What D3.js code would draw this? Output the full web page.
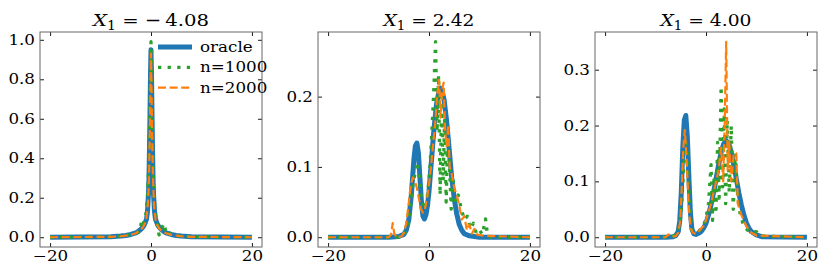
<!DOCTYPE html>
<html>
<head>
<meta charset="utf-8">
<script src="https://cdn.jsdelivr.net/npm/d3@7"></script>
<style>
  body { margin: 0; background: #fff; }
  text { font-family: "DejaVu Serif", serif; fill: #000; }
</style>
</head>
<body>
<div id="chart"></div>
<script>
'use strict'

// panel titles (value of X1) and y ticks
const titles = ['\u2212\u20094.08', '2.42', '4.00']
const yTicks = [[0, 0.2, 0.4, 0.6, 0.8, 1.0], [0, 0.1, 0.2], [0, 0.1, 0.2, 0.3]]
const xTicks = [-20, 0, 20]
const seriesNames = ['oracle', 'n=1000', 'n=2000']

// panel 1: X1 = -4.08
const oracleX1 = [-20, -8, -6, -5, -4, -3, -2.5, -2, -1.5, -1.2, -0.9, -0.7, -0.5, -0.4, -0.3, -0.2, -0.1, 0, 0.1, 0.2, 0.3, 0.4, 0.5, 0.7, 0.9, 1.2, 1.5, 2, 2.5, 3, 4, 5, 6, 8, 20]
const oracleY1 = [0, 0.003, 0.006, 0.009, 0.014, 0.022, 0.03, 0.04, 0.055, 0.07, 0.09, 0.13, 0.22, 0.3, 0.45, 0.62, 0.82, 0.95, 0.82, 0.62, 0.45, 0.3, 0.22, 0.13, 0.09, 0.07, 0.055, 0.04, 0.03, 0.022, 0.014, 0.009, 0.006, 0.003, 0]
const smallX1 = [-20, -8, -6, -4, -3, -2.2, -1.9, -1.6, -1.3, -1.0, -0.7, -0.5, -0.3, -0.15, 0, 0.15, 0.3, 0.5, 0.7, 1.0, 1.3, 1.6, 2.0, 2.6, 3.0, 3.4, 4, 5, 6, 8, 20]
const smallY1 = [0, 0.002, 0.006, 0.014, 0.02, 0.03, 0.08, 0.06, 0.09, 0.12, 0.2, 0.33, 0.5, 0.75, 0.99, 0.7, 0.45, 0.28, 0.16, 0.09, 0.05, 0.012, 0.04, 0.07, 0.02, 0.03, 0.012, 0.008, 0.005, 0.002, 0]
const largeX1 = [-20, -8, -6, -4, -3, -2.2, -1.6, -1.2, -0.9, -0.6, -0.4, -0.25, -0.1, 0, 0.1, 0.25, 0.4, 0.6, 0.9, 1.2, 1.6, 2.2, 3, 4, 6, 8, 20]
const largeY1 = [0, 0.002, 0.005, 0.012, 0.02, 0.035, 0.05, 0.07, 0.1, 0.17, 0.3, 0.5, 0.78, 0.93, 0.76, 0.48, 0.3, 0.16, 0.09, 0.065, 0.045, 0.03, 0.02, 0.012, 0.005, 0.002, 0]

// panel 2: X1 = 2.42
const oracleX2 = [-20, -8, -6, -5, -4.5, -4, -3.5, -3, -2.7, -2.4, -2.1, -1.8, -1.5, -1.2, -0.9, -0.6, -0.3, 0, 0.5, 1, 1.5, 2, 2.3, 2.6, 3, 3.5, 4, 4.5, 5, 5.5, 6, 6.5, 7, 8, 9, 10, 20]
const oracleY2 = [0, 0, 0.001, 0.004, 0.01, 0.025, 0.06, 0.11, 0.13, 0.134, 0.12, 0.085, 0.05, 0.03, 0.026, 0.032, 0.045, 0.065, 0.11, 0.155, 0.19, 0.208, 0.212, 0.208, 0.195, 0.165, 0.125, 0.085, 0.055, 0.033, 0.018, 0.01, 0.005, 0.002, 0.001, 0, 0]
const smallX2 = [-20, -6, -5, -4.3, -3.8, -3.3, -2.8, -2.3, -1.9, -1.5, -1.1, -0.7, -0.3, 0.1, 0.5, 0.9, 1.3, 1.6, 1.9, 2.2, 2.5, 2.8, 3.1, 3.4, 3.7, 4.0, 4.4, 4.8, 5.3, 5.8, 6.4, 7.0, 7.6, 8.2, 8.8, 9.4, 10.0, 10.6, 11.2, 11.6, 12.2, 20]
const smallY2 = [0, 0, 0.004, 0.012, 0.035, 0.07, 0.09, 0.107, 0.085, 0.055, 0.04, 0.045, 0.06, 0.09, 0.14, 0.2, 0.278, 0.15, 0.23, 0.06, 0.2, 0.08, 0.17, 0.05, 0.14, 0.11, 0.04, 0.08, 0.05, 0.06, 0.04, 0.025, 0.03, 0.012, 0.02, 0.005, 0.01, 0.004, 0.026, 0.003, 0, 0]
const largeX2 = [-20, -8, -7.5, -7.2, -6.9, -6.5, -5.5, -5, -4.5, -4, -3.6, -3.2, -2.8, -2.4, -2, -1.6, -1.2, -0.8, -0.4, 0, 0.4, 0.8, 1.2, 1.6, 2.0, 2.3, 2.6, 2.9, 3.2, 3.5, 3.8, 4.1, 4.5, 5, 5.5, 6, 6.5, 7, 7.5, 8, 8.5, 9, 9.5, 10, 11, 20]
const largeY2 = [0, 0, 0.004, 0.02, 0.006, 0, 0.001, 0.006, 0.02, 0.05, 0.075, 0.085, 0.08, 0.07, 0.055, 0.04, 0.035, 0.04, 0.055, 0.075, 0.1, 0.13, 0.16, 0.2, 0.224, 0.17, 0.21, 0.22, 0.15, 0.13, 0.16, 0.1, 0.09, 0.07, 0.06, 0.045, 0.025, 0.03, 0.01, 0.018, 0.005, 0.012, 0.004, 0.003, 0.002, 0]

// panel 3: X1 = 4.00
const oracleX3 = [-20, -8, -6.5, -6, -5.5, -5.2, -4.9, -4.6, -4.3, -4.0, -3.7, -3.4, -3.1, -2.8, -2.4, -2, -1.5, -1, -0.5, 0, 0.5, 1, 1.5, 2, 2.5, 3, 3.5, 4, 4.5, 5, 5.5, 6, 6.5, 7, 7.5, 8, 8.5, 9, 10, 11, 20]
const oracleY3 = [0, 0, 0.001, 0.003, 0.01, 0.03, 0.08, 0.16, 0.21, 0.218, 0.18, 0.11, 0.045, 0.015, 0.006, 0.005, 0.007, 0.01, 0.016, 0.025, 0.04, 0.058, 0.08, 0.105, 0.13, 0.152, 0.167, 0.173, 0.168, 0.152, 0.13, 0.105, 0.08, 0.058, 0.04, 0.026, 0.016, 0.01, 0.004, 0.001, 0]
const smallX3 = [-20, -7, -6, -5.6, -5.2, -4.8, -4.4, -4.0, -3.7, -3.4, -3.1, -2.8, -2.3, -1.5, -1, -0.5, 0, 0.5, 1.0, 1.3, 1.6, 2.0, 2.3, 2.6, 3.0, 3.3, 3.6, 3.9, 4.2, 4.6, 5.0, 5.4, 5.8, 6.3, 6.8, 7.5, 8.5, 10, 11, 20]
const smallY3 = [0, 0, 0.004, 0.013, 0.02, 0.06, 0.13, 0.177, 0.15, 0.09, 0.04, 0.012, 0.008, 0.01, 0.015, 0.02, 0.035, 0.06, 0.13, 0.03, 0.11, 0.05, 0.17, 0.07, 0.27, 0.09, 0.23, 0.06, 0.21, 0.08, 0.2, 0.05, 0.15, 0.07, 0.04, 0.02, 0.01, 0.01, 0.002, 0]
const largeX3 = [-20, -8, -7.5, -7, -6, -5.5, -5.1, -4.8, -4.5, -4.2, -3.9, -3.6, -3.3, -3, -2.6, -2, -1.5, -1, -0.5, 0, 0.5, 1, 1.5, 2, 2.5, 3, 3.4, 3.7, 4.0, 4.3, 4.6, 5, 5.5, 6, 6.3, 7, 8, 9, 10, 20]
const largeY3 = [0, 0, 0.005, 0.001, 0.002, 0.008, 0.03, 0.09, 0.16, 0.192, 0.15, 0.09, 0.04, 0.015, 0.008, 0.006, 0.01, 0.015, 0.02, 0.03, 0.045, 0.06, 0.08, 0.1, 0.12, 0.16, 0.1, 0.2, 0.35, 0.12, 0.17, 0.1, 0.15, 0.15, 0.06, 0.04, 0.02, 0.008, 0.003, 0]

const panels = [
  { xs: [oracleX1, smallX1, largeX1], ys: [oracleY1, smallY1, largeY1] },
  { xs: [oracleX2, smallX2, largeX2], ys: [oracleY2, smallY2, largeY2] },
  { xs: [oracleX3, smallX3, largeX3], ys: [oracleY3, smallY3, largeY3] }
]

const width = 830,
    height = 277
const lefts = [40, 318, 595]
const pw = 222, panelTop = 32, ph = 215
const titleWidths = [116, 91, 91]
const sx = 1.17 // the text in the original looks a bit stretched sideways

const styles = [
  { color: '#1f77b4', width: 5, dash: null },
  { color: '#2ca02c', width: 3.3, dash: '3.3,6.3' },
  { color: '#ff7f0e', width: 2.2, dash: '8,3.6' }
]

// widen text around its anchor point
const stretch = (sel) => {
  sel.each(function() {
    const t = d3.select(this)
    const x0 = +t.attr('x') || 0
    t.attr('x', 0).attr('transform', `translate(${x0},0) scale(${sx},1)`)
  })
}

const svg = d3.select('#chart').append('svg')
  .attr('width', width)
  .attr('height', height)

panels.forEach((p, i) => {
  const g = svg.append('g').attr('transform', `translate(${lefts[i]},${panelTop})`)
  const ymax = d3.max(p.ys.map(a => d3.max(a)))
  const x = d3.scaleLinear().domain([-22, 22]).range([0, pw])
  const y = d3.scaleLinear().domain([-0.05 * ymax, 1.05 * ymax]).range([ph, 0])

  g.append('clipPath').attr('id', 'clip' + i)
    .append('rect').attr('width', pw).attr('height', ph)

  const line = d3.line().x(d => x(d[0])).y(d => y(d[1]))
  const lines = g.append('g').attr('clip-path', `url(#clip${i})`)
  p.xs.forEach((xs, k) => {
    const pts = xs.map((v, j) => [v, p.ys[k][j]])
    lines.append('path')
      .attr('d', line(pts))
      .attr('fill', 'none')
      .attr('stroke', styles[k].color)
      .attr('stroke-width', styles[k].width)
      .attr('stroke-dasharray', styles[k].dash)
      .attr('stroke-linejoin', 'round')
  })

  // axes with inward ticks on all sides
  const fmt = d3.format('.1f')
  const bottom = g.append('g').attr('transform', `translate(0,${ph})`)
    .call(d3.axisBottom(x).tickValues(xTicks).tickSizeInner(-4).tickSizeOuter(0).tickPadding(3)
      .tickFormat(d => d < 0 ? '\u2212' + Math.abs(d) : d))
  g.append('g')
    .call(d3.axisTop(x).tickValues(xTicks).tickSizeInner(-4).tickSizeOuter(0).tickFormat(''))
  g.append('g')
    .call(d3.axisLeft(y).tickValues(yTicks[i]).tickSizeInner(-4).tickSizeOuter(0).tickPadding(5).tickFormat(fmt))
  g.append('g').attr('transform', `translate(${pw},0)`)
    .call(d3.axisRight(y).tickValues(yTicks[i]).tickSizeInner(-4).tickSizeOuter(0).tickFormat(''))
  g.selectAll('.domain').remove()
  g.selectAll('.tick line').attr('stroke', '#000').attr('stroke-width', 0.9)
  g.selectAll('.tick text').attr('font-family', '"DejaVu Serif", serif').attr('font-size', 14.3).attr('fill', '#000')
  bottom.selectAll('.tick text').attr('dy', '0.76em')
  stretch(g.selectAll('.tick text'))

  g.append('rect')
    .attr('width', pw).attr('height', ph)
    .attr('fill', 'none').attr('stroke', '#666').attr('stroke-width', 1)

  // title
  const t = g.append('text')
    .attr('x', pw / 2).attr('y', 26 - panelTop)
    .attr('text-anchor', 'middle')
    .attr('font-size', 17.5)
    .attr('textLength', titleWidths[i])
    .attr('lengthAdjust', 'spacingAndGlyphs')
  t.append('tspan').attr('font-style', 'italic').text('X')
  t.append('tspan').attr('font-size', 12.5).attr('dy', 4).text('1')
  t.append('tspan').attr('dy', -4).text(' = ' + titles[i])

  // legend in first panel
  if (i === 0) {
    const lg = svg.append('g')
    seriesNames.forEach((name, k) => {
      const yy = 47 + k * 20.3
      lg.append('line')
        .attr('x1', 158).attr('x2', 192).attr('y1', yy).attr('y2', yy)
        .attr('stroke', styles[k].color)
        .attr('stroke-width', styles[k].width)
        .attr('stroke-dasharray', styles[k].dash)
      lg.append('text')
        .attr('x', 200).attr('y', yy).attr('dy', '0.35em')
        .attr('font-size', 14.3)
        .text(name)
    })
    stretch(lg.selectAll('text'))
  }
})
</script>
</body>
</html>
